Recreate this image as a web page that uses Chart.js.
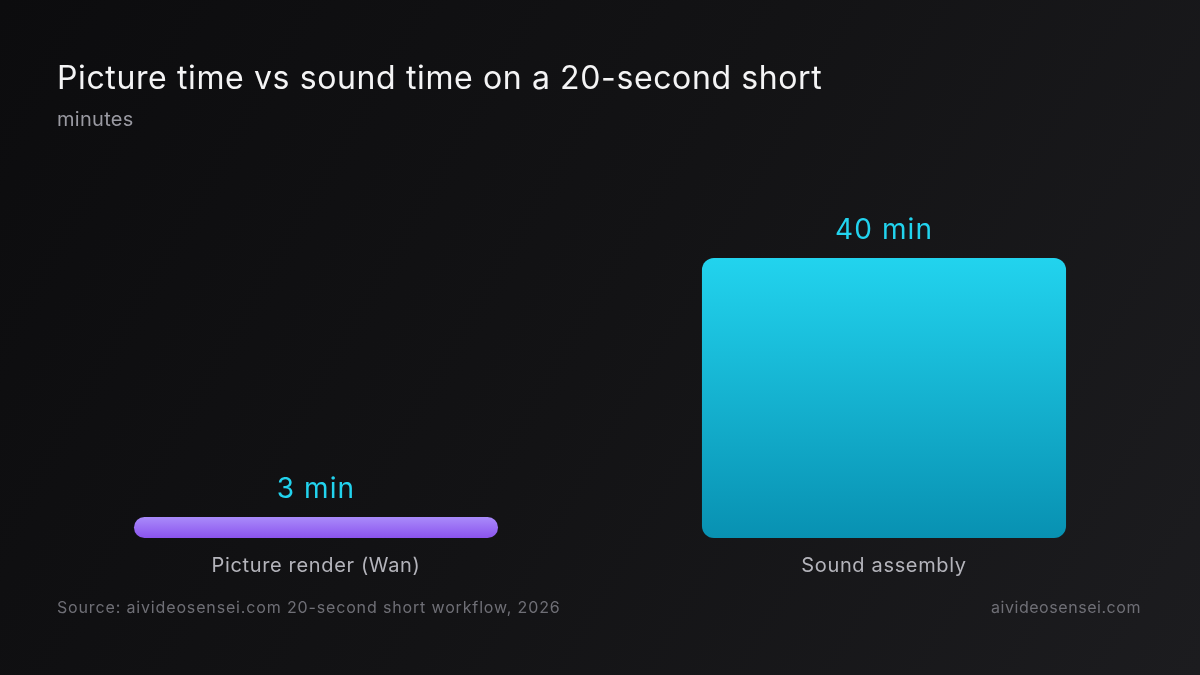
<!DOCTYPE html>
<html>
<head>
<meta charset="utf-8">
<script src="https://cdn.jsdelivr.net/npm/chart.js@4"></script>
<style>
  html, body { margin: 0; padding: 0; }
  body {
    width: 1200px; height: 675px; overflow: hidden;
    background: linear-gradient(120deg, #0c0c0e 0%, #131315 50%, #1c1c1f 100%);
  }
  #wrap { position: relative; width: 1200px; height: 675px; }
</style>
</head>
<body>
<div id="wrap"><canvas id="chart" width="1200" height="675"></canvas></div>
<script>
// chart data
const categories = ["Picture render (Wan)", "Sound assembly"];
const minutes = [3, 40];
const valueLabels = ["3 min", "40 min"];
const yTicks = [0, 40];

const titleText = "Picture time vs sound time on a 20-second short";
const subtitleText = "minutes";
const sourceText = "Source: aivideosensei.com 20-second short workflow, 2026";
const brandText = "aivideosensei.com";

const FONT = "Inter, 'Noto Sans', sans-serif";

// gradient stops (top, bottom) for each bar
const barStops = [
  ["#a98bfa", "#8b53ee"],
  ["#22d3ee", "#0891b2"],
];

function barGradient(context) {
  const chart = context.chart;
  const stops = barStops[context.dataIndex] || barStops[0];
  const y = chart.scales && chart.scales.y;
  if (!y || !chart.chartArea) return stops[0];
  const top = y.getPixelForValue(minutes[context.dataIndex]);
  const base = y.getPixelForValue(0);
  const g = chart.ctx.createLinearGradient(0, top, 0, base);
  g.addColorStop(0, stops[0]);
  g.addColorStop(1, stops[1]);
  return g;
}

// a bit of tracking so the text width matches the original
const spacingPlugin = {
  id: "spacing",
  beforeDraw(chart) {
    chart.ctx.letterSpacing = "0.65px";
  },
};

// titles, value labels and footer
const textPlugin = {
  id: "texts",
  afterDatasetsDraw(chart) {
    const ctx = chart.ctx;
    ctx.save();
    ctx.textBaseline = "middle";

    ctx.letterSpacing = "0.62px";
    ctx.fillStyle = "#f4f4f5";
    ctx.font = "400 32px " + FONT;
    ctx.textAlign = "left";
    ctx.fillText(titleText, 57, 79);

    ctx.letterSpacing = "0.3px";
    ctx.fillStyle = "#9a9aa2";
    ctx.font = "400 20px " + FONT;
    ctx.fillText(subtitleText, 57, 120);

    // value labels above bars
    const meta = chart.getDatasetMeta(0);
    ctx.letterSpacing = "1.1px";
    ctx.fillStyle = "#22d3ee";
    ctx.font = "400 28px " + FONT;
    ctx.textAlign = "center";
    meta.data.forEach((bar, i) => {
      ctx.fillText(valueLabels[i], bar.x, bar.y - 27);
    });

    ctx.letterSpacing = "0.85px";
    ctx.fillStyle = "#6f6f76";
    ctx.font = "400 16px " + FONT;
    ctx.textAlign = "left";
    ctx.fillText(sourceText, 57, 608);
    ctx.letterSpacing = "0.55px";
    ctx.textAlign = "right";
    ctx.fillText(brandText, 1141, 608);
    ctx.restore();
  },
};

new Chart(document.getElementById("chart"), {
  type: "bar",
  data: {
    labels: categories,
    datasets: [
      {
        data: minutes,
        backgroundColor: barGradient,
        borderRadius: 12,
        borderSkipped: false,
        barPercentage: 1,
        categoryPercentage: 0.641,
      },
    ],
  },
  options: {
    responsive: false,
    animation: false,
    devicePixelRatio: 1,
    layout: { padding: { left: 32, right: 32, top: 258, bottom: 89 } },
    plugins: {
      legend: { display: false },
      tooltip: { enabled: false },
      title: { display: false },
    },
    scales: {
      x: {
        grid: { display: false },
        border: { display: false },
        ticks: {
          color: "#b4b4bb",
          font: { family: FONT, size: 20 },
          padding: 8,
        },
      },
      y: {
        display: false,
        min: yTicks[0],
        max: yTicks[yTicks.length - 1],
      },
    },
  },
  plugins: [spacingPlugin, textPlugin],
});
</script>
</body>
</html>
